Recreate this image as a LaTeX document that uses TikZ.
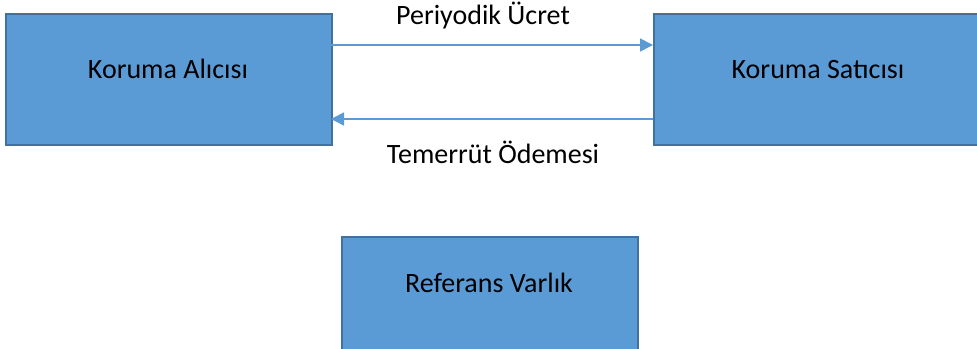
\documentclass[tikz,border=0pt]{standalone}
\usepackage{fontspec}
\setmainfont{Carlito}
\usetikzlibrary{arrows.meta}
\definecolor{boxfill}{HTML}{5B9BD5}
\definecolor{boxline}{HTML}{41719C}
\tikzset{
  box/.style={draw=boxline, line width=1.5pt, fill=boxfill, inner sep=0pt, anchor=south west},
  conn/.style={draw=boxfill, line width=1.6pt, -{Triangle[length=13pt,width=13pt]}},
  lbl/.style={font=\fontsize{28}{32}\selectfont, inner sep=0pt, anchor=base}
}
\begin{document}
\begin{tikzpicture}[x=1pt,y=1pt]
\useasboundingbox (0,0) rectangle (977,348);
\node[box, minimum width=326pt, minimum height=131pt] (buyer) at (5,202) {};
\node[lbl] (buyertxt) at (168,269) {Koruma Alıcısı};
\node[box, minimum width=332pt, minimum height=131pt] (seller) at (653,202) {};
\node[lbl] (sellertxt) at (818,269) {Koruma Satıcısı};
\node[box, minimum width=296pt, minimum height=116pt] (ref) at (341,-6) {};
\node[lbl] (reftxt) at (489,55) {Referans Varlık};
\coordinate (a1) at (331,303);
\coordinate (a2) at (653,303);
\coordinate (b1) at (653,229);
\coordinate (b2) at (331,229);
\draw[conn] (a1) -- (a2);
\draw[conn] (b1) -- (b2);
\node[lbl] (p) at (483,323) {Periyodik Ücret};
\node[lbl] (t) at (493,184) {Temerrüt Ödemesi};
\end{tikzpicture}
\end{document}
